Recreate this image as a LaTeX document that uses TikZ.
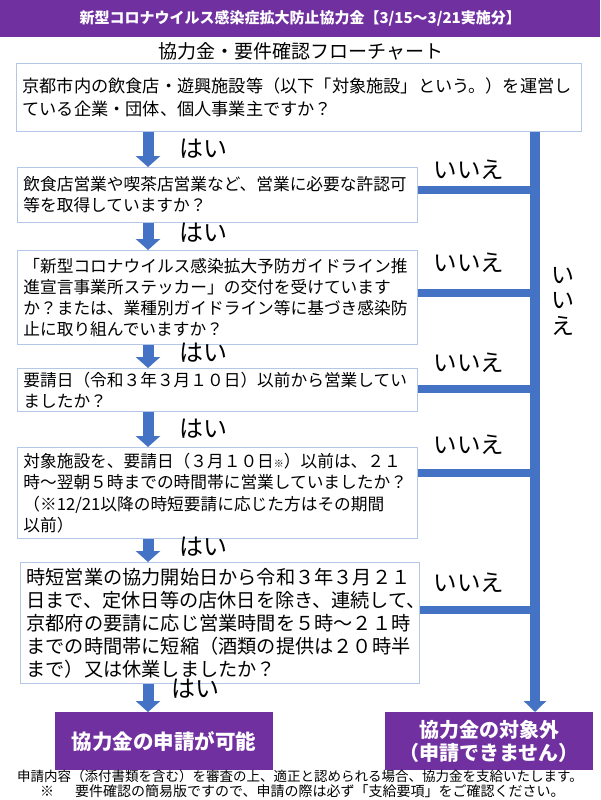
\documentclass[tikz,border=0pt]{standalone}
\usepackage{fontspec}
\setmainfont{Noto Sans CJK JP}
\usetikzlibrary{arrows.meta,calc}
\definecolor{hdpurple}{HTML}{7030A0}
\definecolor{arrowblue}{HTML}{4472C4}
\definecolor{boxline}{HTML}{B4C7E7}
\begin{document}
\begin{tikzpicture}[x=1pt,y=-1pt,
  qbox/.style={draw=boxline, line width=0.8pt, fill=white, anchor=north west, align=left, inner xsep=6pt, inner ysep=2pt},
  endbox/.style={fill=hdpurple, text=white, align=center, anchor=north west, inner sep=0pt},
  downarrow/.style={draw=arrowblue, line width=11pt, -{Triangle[width=24pt,length=11pt]}},
  nobar/.style={draw=arrowblue, line width=8pt},
  mainbar/.style={draw=arrowblue, line width=10pt, -{Triangle[width=22pt,length=11pt]}},
  yeslbl/.style={font=\fontsize{24}{24}\selectfont, anchor=west, inner sep=0pt},
  nolbl/.style={font=\fontsize{23.5}{24}\selectfont, inner sep=0pt},
]
\useasboundingbox (0,0) rectangle (600,800);
\fill[white] (0,0) rectangle (600,800);

% header
\node[fill=hdpurple, text=white, anchor=north west, minimum width=600pt, minimum height=37pt, inner sep=0pt,
  font=\fontsize{15}{15}\selectfont\bfseries] (hdr) at (0,0) {新型コロナウイルス感染症拡大防止協力金【3/15～3/21実施分】};
\node[font=\fontsize{19}{19}\selectfont, inner sep=0pt] (sub) at (301,51) {協力金・要件確認フローチャート};

% question boxes
\node[qbox, text width=553pt, minimum height=68pt, font=\fontsize{17.2}{23}\selectfont] (b1) at (16,63)
 {京都市内の飲食店・遊興施設等（以下「対象施設」という。）を運営し\\ている企業・団体、個人事業主ですか？};
\node[qbox, text width=388pt, minimum height=55pt, font=\fontsize{16.7}{21}\selectfont] (b2) at (17,167)
 {飲食店営業や喫茶店営業など、営業に必要な許認可\\等を取得していますか？};
\node[qbox, text width=388pt, minimum height=94pt, font=\fontsize{16.7}{21}\selectfont] (b3) at (17,250)
 {「新型コロナウイルス感染拡大予防ガイドライン推\\進宣言事業所ステッカー」の交付を受けています\\か？または、業種別ガイドライン等に基づき感染防\\止に取り組んでいますか？};
\node[qbox, text width=388pt, minimum height=43pt, font=\fontsize{16.7}{21}\selectfont] (b4) at (17,368)
 {要請日（令和３年３月１０日）以前から営業してい\\ましたか？};
\node[qbox, text width=388pt, minimum height=91pt, font=\fontsize{16.7}{21.5}\selectfont] (b5) at (17,447)
 {対象施設を、要請日（３月１０日{\fontsize{10}{10}\selectfont ※}）以前は、２１\\時～翌朝５時までの時間帯に営業していましたか？\\（※12/21以降の時短要請に応じた方はその期間\\以前）};
\node[qbox, text width=387pt, minimum height=121pt, font=\fontsize{19.2}{23}\selectfont] (b6) at (20,562)
 {時短営業の協力開始日から令和３年３月２１\\日まで、定休日等の店休日を除き、連続して、\\京都府の要請に応じ営業時間を５時～２１時\\までの時間帯に短縮（酒類の提供は２０時半\\まで）又は休業しましたか？};

% end boxes
\node[endbox, minimum width=218pt, minimum height=58pt, font=\fontsize{20.5}{24}\selectfont\bfseries] (yes) at (55,712) {協力金の申請が可能};
\node[endbox, minimum width=208pt, minimum height=58pt, font=\fontsize{20}{23}\selectfont\bfseries] (no) at (385,712) {協力金の対象外\\（申請できません）};

% connectors
\coordinate (ax) at (148,0);
\coordinate (vx) at (535,0);
\draw[downarrow] (b1.south -| ax) -- (b2.north -| ax);
\draw[downarrow] (b2.south -| ax) -- (b3.north -| ax);
\draw[downarrow] (b3.south -| ax) -- (b4.north -| ax);
\draw[downarrow] (b4.south -| ax) -- (b5.north -| ax);
\draw[downarrow] (b5.south -| ax) -- (b6.north -| ax);
\draw[downarrow] (b6.south -| ax) -- (yes.north -| ax);

\coordinate (h2) at ($(b2.north east)+(0,23)$);
\coordinate (h3) at ($(b3.north east)+(0,43)$);
\coordinate (h4) at ($(b4.north east)+(0,21)$);
\coordinate (h5) at ($(b5.north east)+(0,26)$);
\coordinate (h6) at ($(b6.north east)+(0,48)$);
\draw[nobar] (h2) -- (h2 -| vx);
\draw[nobar] (h3) -- (h3 -| vx);
\draw[nobar] (h4) -- (h4 -| vx);
\draw[nobar] (h5) -- (h5 -| vx);
\draw[nobar] (h6) -- (h6 -| vx);
\draw[mainbar] (b1.south -| vx) -- (no.north -| vx);

% labels
\node[yeslbl] (y1) at (179,149) {はい};
\node[yeslbl] (y2) at (179,233) {はい};
\node[yeslbl] (y3) at (179,353) {はい};
\node[yeslbl] (y4) at (179,429) {はい};
\node[yeslbl] (y5) at (179,547) {はい};
\node[yeslbl] (y6) at (171,689) {はい};
\node[nolbl] (n2) at (469,170) {いいえ};
\node[nolbl] (n3) at (469,263) {いいえ};
\node[nolbl] (n4) at (469,363) {いいえ};
\node[nolbl] (n5) at (469,445) {いいえ};
\node[nolbl] (n6) at (469,583) {いいえ};
\node[nolbl, align=center, font=\fontsize{23}{25.5}\selectfont] (nv) at (563,301) {い\\い\\え};

% footer
\node[anchor=west, inner sep=0pt, font=\fontsize{13.5}{14}\selectfont] (f1) at (17,776) {申請内容（添付書類を含む）を審査の上、適正と認められる場合、協力金を支給いたします。};
\node[anchor=west, inner sep=0pt, font=\fontsize{14}{14}\selectfont] (f2) at (40,791.5) {※\hspace{1.5em}要件確認の簡易版ですので、申請の際は必ず「支給要項」をご確認ください。};
\end{tikzpicture}
\end{document}
